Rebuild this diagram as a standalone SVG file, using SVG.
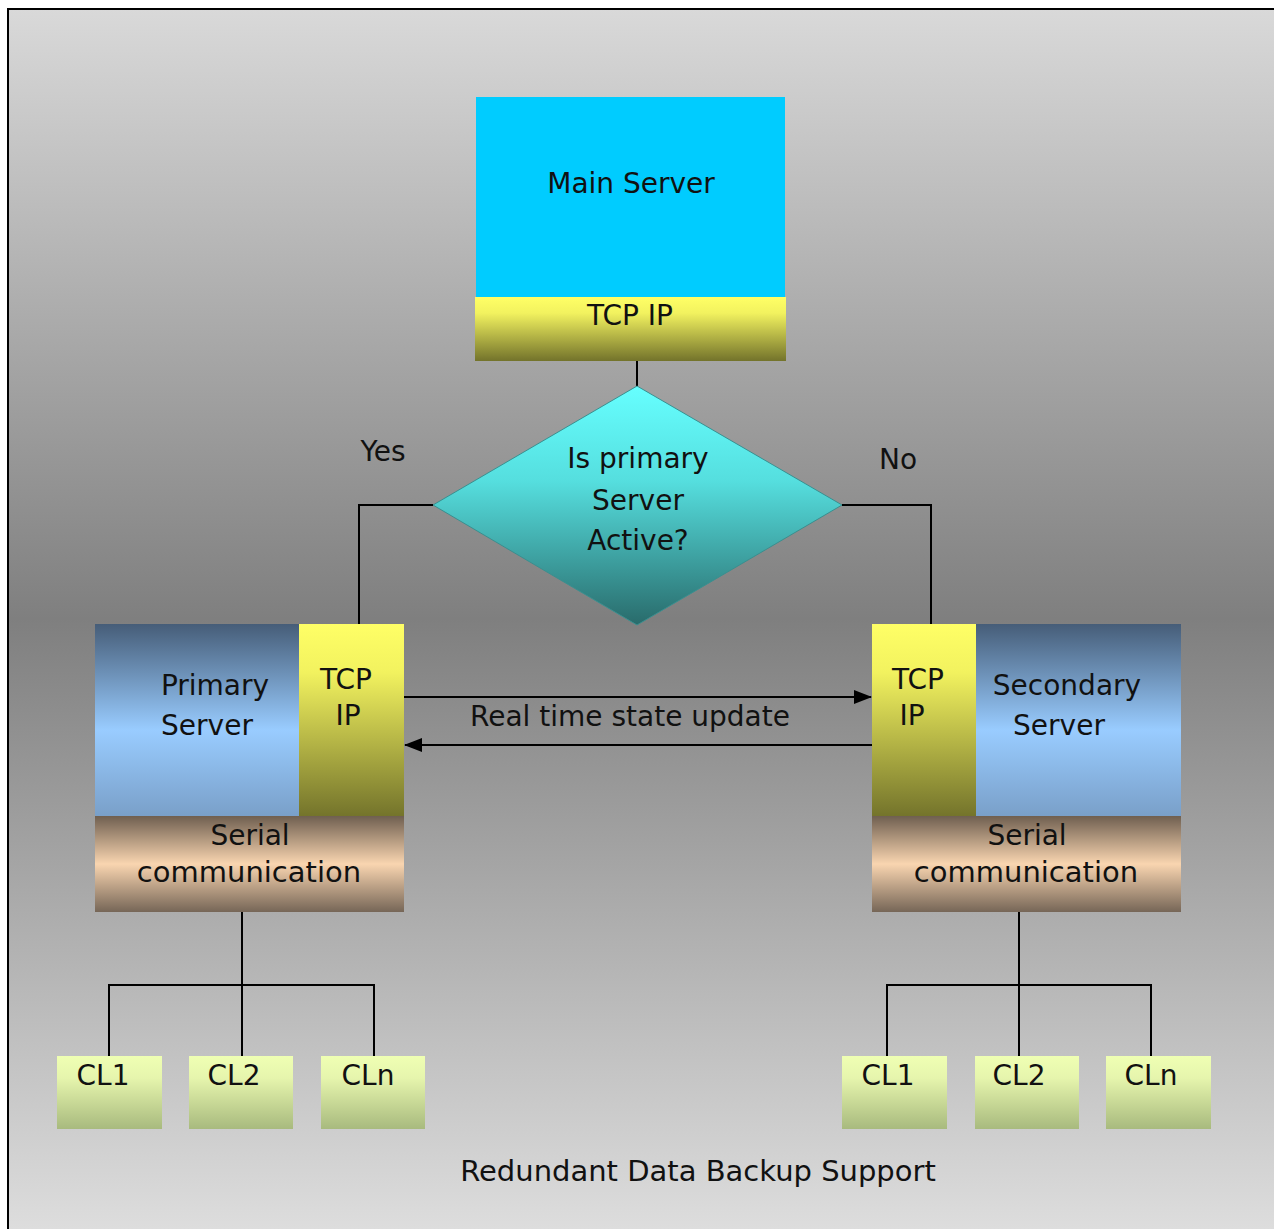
<svg xmlns="http://www.w3.org/2000/svg" width="1274" height="1229" viewBox="0 0 1274 1229">
<style>
text{font-family:"DejaVu Sans","Liberation Sans",sans-serif;font-size:28px;fill:#111;text-anchor:middle}
.ln{stroke:#000;stroke-width:2;fill:none}
.wide{font-size:29px}
</style>
<defs>
<linearGradient id="bg" gradientUnits="userSpaceOnUse" x1="0" y1="9" x2="0" y2="1229">
<stop offset="0" stop-color="#d9d9d9"/><stop offset="0.5" stop-color="#7f7f7f"/><stop offset="1" stop-color="#dddddd"/>
</linearGradient>
<linearGradient id="yel" x1="0" y1="0" x2="0" y2="1">
<stop offset="0" stop-color="#ffff66"/><stop offset="0.25" stop-color="#f2f25f"/><stop offset="1" stop-color="#73732b"/>
</linearGradient>
<linearGradient id="blu" x1="0" y1="0" x2="0" y2="1">
<stop offset="0" stop-color="#465d78"/><stop offset="0.55" stop-color="#99ccff"/><stop offset="1" stop-color="#799fc8"/>
</linearGradient>
<linearGradient id="ser" x1="0" y1="0" x2="0" y2="1">
<stop offset="0" stop-color="#6f5f50"/><stop offset="0.5" stop-color="#f9d5b0"/><stop offset="1" stop-color="#766657"/>
</linearGradient>
<linearGradient id="dia" x1="0" y1="0" x2="0" y2="1">
<stop offset="0" stop-color="#66ffff"/><stop offset="0.4" stop-color="#55dede"/><stop offset="1" stop-color="#296b6b"/>
</linearGradient>
<linearGradient id="cl" x1="0" y1="0" x2="0" y2="1">
<stop offset="0" stop-color="#efffb3"/><stop offset="0.3" stop-color="#e6f5ad"/><stop offset="1" stop-color="#a8ba7e"/>
</linearGradient>
<marker id="ah" markerUnits="userSpaceOnUse" markerWidth="18" markerHeight="14" refX="17" refY="7" orient="auto">
<path d="M0,0 L18,7 L0,14 Z" fill="#000"/>
</marker>
</defs>
<rect x="0" y="0" width="1274" height="1229" fill="#fff"/>
<rect x="8" y="9" width="1290" height="1240" fill="url(#bg)" stroke="#000" stroke-width="2"/>

<g id="connectors">
<path class="ln" d="M637,361 V386"/>
<path class="ln" d="M433,505 H359 V625"/>
<path class="ln" d="M842,505 H931 V625"/>
<path class="ln" d="M404,697 H871" marker-end="url(#ah)"/>
<path class="ln" d="M872,745 H405" marker-end="url(#ah)"/>
<path class="ln" d="M242,912 V1056 M109,1056 V985 H374 V1056"/>
<path class="ln" d="M1019,912 V1056 M887,1056 V985 H1151 V1056"/>
<text x="383" y="461">Yes</text>
<text x="898" y="469">No</text>
<text x="630" y="726">Real time state update</text>
</g>

<g id="main-server">
<rect x="476" y="97" width="309" height="201" fill="#00ccff"/>
<rect x="475" y="297" width="311" height="64" fill="url(#yel)"/>
<text x="631" y="193">Main Server</text>
<text x="630" y="325">TCP IP</text>
</g>

<g id="decision">
<polygon points="637,386 842,505 637,625 433,505" fill="url(#dia)" stroke="#3a8f8f" stroke-width="1"/>
<text x="638" y="468">Is primary</text>
<text x="638" y="510">Server</text>
<text x="638" y="550">Active?</text>
</g>

<g id="primary-server">
<rect x="95" y="624" width="205" height="193" fill="url(#blu)"/>
<rect x="299" y="624" width="105" height="193" fill="url(#yel)"/>
<rect x="95" y="816" width="309" height="96" fill="url(#ser)"/>
<text x="215" y="695">Primary</text>
<text x="207" y="735">Server</text>
<text x="346" y="689">TCP</text>
<text x="348" y="725">IP</text>
<text x="250" y="845">Serial</text>
<text class="wide" x="249" y="882">communication</text>
</g>

<g id="secondary-server">
<rect x="872" y="624" width="105" height="193" fill="url(#yel)"/>
<rect x="976" y="624" width="205" height="193" fill="url(#blu)"/>
<rect x="872" y="816" width="309" height="96" fill="url(#ser)"/>
<text x="918" y="689">TCP</text>
<text x="912" y="725">IP</text>
<text x="1067" y="695">Secondary</text>
<text x="1059" y="735">Server</text>
<text x="1027" y="845">Serial</text>
<text class="wide" x="1026" y="882">communication</text>
</g>

<g id="p-cl1"><rect x="57" y="1056" width="105" height="73" fill="url(#cl)"/><text x="103" y="1085">CL1</text></g>
<g id="p-cl2"><rect x="189" y="1056" width="104" height="73" fill="url(#cl)"/><text x="234" y="1085">CL2</text></g>
<g id="p-cln"><rect x="321" y="1056" width="104" height="73" fill="url(#cl)"/><text x="368" y="1085">CLn</text></g>
<g id="s-cl1"><rect x="842" y="1056" width="105" height="73" fill="url(#cl)"/><text x="888" y="1085">CL1</text></g>
<g id="s-cl2"><rect x="975" y="1056" width="104" height="73" fill="url(#cl)"/><text x="1019" y="1085">CL2</text></g>
<g id="s-cln"><rect x="1106" y="1056" width="105" height="73" fill="url(#cl)"/><text x="1151" y="1085">CLn</text></g>

<g id="title"><text class="wide" x="698" y="1181">Redundant Data Backup Support</text></g>
</svg>
